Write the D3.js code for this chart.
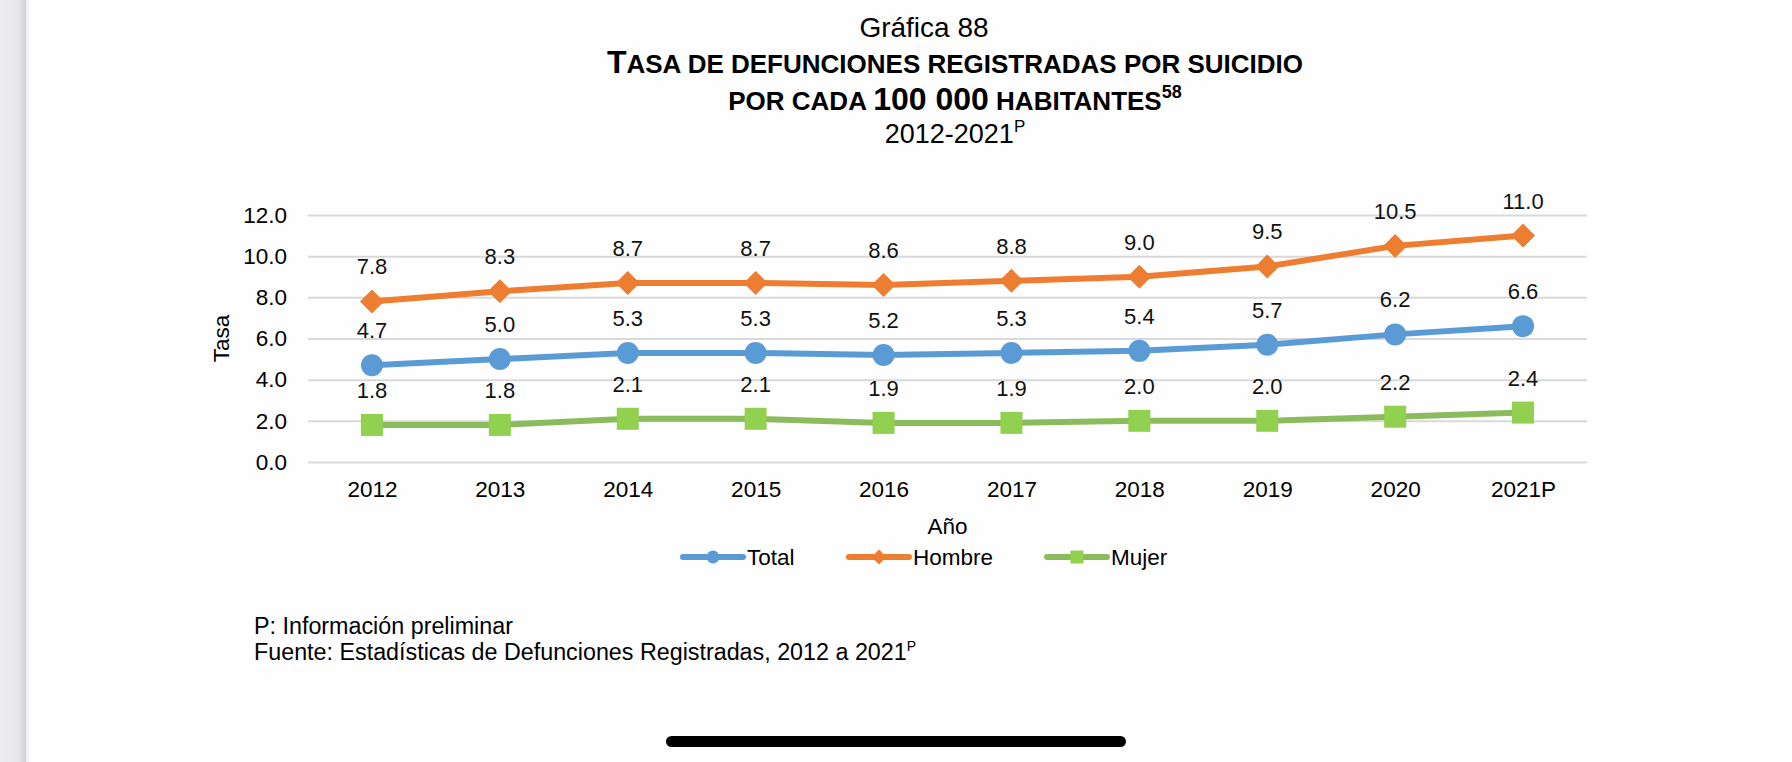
<!DOCTYPE html>
<html>
<head>
<meta charset="utf-8">
<script src="https://cdn.jsdelivr.net/npm/d3@7"></script>
<style>
  body { margin: 0; background: #fefefe; }
  svg { display: block; font-family: "Liberation Sans", Arial, sans-serif; }
</style>
</head>
<body>
<svg id="chart" width="1792" height="762"></svg>
<script>
// datos
var years  = ["2012", "2013", "2014", "2015", "2016", "2017", "2018", "2019", "2020", "2021P"];
var total  = [4.7, 5.0, 5.3, 5.3, 5.2, 5.3, 5.4, 5.7, 6.2, 6.6];
var hombre = [7.8, 8.3, 8.7, 8.7, 8.6, 8.8, 9.0, 9.5, 10.5, 11.0];
var mujer  = [1.8, 1.8, 2.1, 2.1, 1.9, 1.9, 2.0, 2.0, 2.2, 2.4];
var yTicks = [0, 2, 4, 6, 8, 10, 12];

var series = [
  {name: "Total",  values: total,  line: "#5b9bd5", fill: "#5b9bd5", shape: "circle"},
  {name: "Hombre", values: hombre, line: "#ed7d31", fill: "#ed7d31", shape: "diamond"},
  {name: "Mujer",  values: mujer,  line: "#8cbb5e", fill: "#92d050", shape: "square"}
];

var svg = d3.select("#chart");

// franja gris a la izquierda (captura de pantalla)
var grad = svg.append("defs").append("linearGradient").attr("id", "edge");
grad.append("stop").attr("offset", "0%").attr("stop-color", "#ececf1");
grad.append("stop").attr("offset", "70%").attr("stop-color", "#e6e6eb");
grad.append("stop").attr("offset", "100%").attr("stop-color", "#cfcfd4");
svg.append("rect").attr("x", 0).attr("y", 0).attr("width", 26).attr("height", 762).attr("fill", "url(#edge)");
svg.append("rect").attr("x", 26).attr("y", 0).attr("width", 3).attr("height", 762).attr("fill", "#f2f2f2");

var plotL = 308, plotR = 1587, plotT = 215, plotB = 462;

var x = d3.scalePoint().domain(years).range([plotL, plotR]).padding(0.5);
var y = d3.scaleLinear().domain([0, 12]).range([plotB, plotT]);

// titulos
var titles = svg.append("g").attr("fill", "#000");
titles.append("text").attr("x", 924).attr("y", 37).attr("text-anchor", "middle")
  .style("font-size", "28px").text("Gráfica 88");

var t1 = titles.append("text").attr("x", 955).attr("y", 73).attr("text-anchor", "middle")
  .style("font-weight", "bold").style("font-size", "26px");
t1.append("tspan").style("font-size", "32px").text("T");
t1.append("tspan").text("ASA DE DEFUNCIONES REGISTRADAS POR SUICIDIO");

var t2 = titles.append("text").attr("x", 955).attr("y", 110).attr("text-anchor", "middle")
  .style("font-weight", "bold").style("font-size", "26px");
t2.append("tspan").text("POR CADA ");
t2.append("tspan").style("font-size", "32px").text("100 000");
t2.append("tspan").text(" HABITANTES");
t2.append("tspan").style("font-size", "18px").attr("dy", -12).text("58");

var t3 = titles.append("text").attr("x", 955).attr("y", 143).attr("text-anchor", "middle")
  .style("font-size", "27px");
t3.append("tspan").text("2012-2021");
t3.append("tspan").style("font-size", "17px").attr("dy", -11).text("P");

// eje y con rejilla
var gy = svg.append("g").attr("transform", "translate(" + plotL + ",0)")
  .call(d3.axisLeft(y).tickValues(yTicks).tickFormat(d3.format(".1f"))
    .tickSize(-(plotR - plotL)).tickPadding(21));
gy.select(".domain").remove();
gy.selectAll(".tick line").attr("stroke", "#d9d9d9").attr("stroke-width", 2);
gy.selectAll(".tick text").attr("fill", "#000").style("font-size", "22.5px");
gy.attr("font-family", null).attr("font-size", null);

// eje x
var gx = svg.append("g").attr("transform", "translate(0," + plotB + ")")
  .call(d3.axisBottom(x).tickSize(0).tickPadding(19));
gx.select(".domain").remove();
gx.selectAll(".tick text").attr("fill", "#000").style("font-size", "22.5px");
gx.attr("font-family", null).attr("font-size", null);

svg.append("text").attr("transform", "translate(229," + ((plotT + plotB) / 2) + ") rotate(-90)")
  .attr("text-anchor", "middle").style("font-size", "22.5px").text("Tasa");
svg.append("text").attr("x", (plotL + plotR) / 2).attr("y", 534).attr("text-anchor", "middle")
  .style("font-size", "22.5px").text("Año");

function marker(sel, shape, size) {
  if (shape === "circle") {
    sel.append("circle").attr("r", size / 2);
  } else if (shape === "square") {
    sel.append("rect").attr("x", -size / 2).attr("y", -size / 2).attr("width", size).attr("height", size);
  } else {
    var h = size / 2;
    sel.append("path").attr("d", "M0," + (-h) + "L" + h + ",0L0," + h + "L" + (-h) + ",0Z");
  }
}

var line = d3.line().x(function(d, i) { return x(years[i]); }).y(function(d) { return y(d); });

series.forEach(function(s) {
  var g = svg.append("g");
  g.append("path").datum(s.values).attr("d", line)
    .attr("fill", "none").attr("stroke", s.line).attr("stroke-width", 6).attr("stroke-linejoin", "round");
  s.values.forEach(function(v, i) {
    var m = g.append("g").attr("transform", "translate(" + x(years[i]) + "," + y(v) + ")").attr("fill", s.fill);
    marker(m, s.shape, s.shape === "diamond" ? 24 : 22);
  });
  g.selectAll(".lbl").data(s.values).enter().append("text").attr("class", "lbl")
    .attr("x", function(d, i) { return x(years[i]); })
    .attr("y", function(d) { return y(d) - 27; })
    .attr("text-anchor", "middle").style("font-size", "22px").attr("fill", "#111")
    .text(d3.format(".1f"));
});

// leyenda
var legendX = [683, 849, 1047];
series.forEach(function(s, i) {
  var lg = svg.append("g").attr("transform", "translate(" + legendX[i] + ",557)");
  lg.append("line").attr("x1", 0).attr("x2", 60).attr("stroke", s.line).attr("stroke-width", 6).attr("stroke-linecap", "round");
  var m = lg.append("g").attr("transform", "translate(30,0)").attr("fill", s.fill);
  marker(m, s.shape, s.shape === "diamond" ? 15 : 13);
  lg.append("text").attr("x", 64).attr("y", 8).style("font-size", "22.5px").text(s.name);
});

// notas
svg.append("text").attr("x", 254).attr("y", 634).style("font-size", "23.3px").text("P: Información preliminar");
var f = svg.append("text").attr("x", 254).attr("y", 660).style("font-size", "23.3px");
f.append("tspan").text("Fuente: Estadísticas de Defunciones Registradas, 2012 a 2021");
f.append("tspan").style("font-size", "14px").attr("dy", -9).text("P");

// barra inferior
svg.append("rect").attr("x", 666).attr("y", 736).attr("width", 460).attr("height", 11).attr("rx", 5.5).attr("fill", "#000");
</script>
</body>
</html>
